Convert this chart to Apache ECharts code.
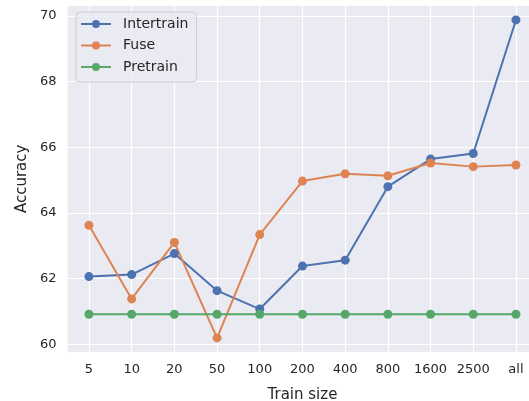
<!DOCTYPE html>
<html>
<head>
<meta charset="utf-8">
<script src="https://cdn.jsdelivr.net/npm/echarts@6/dist/echarts.min.js"></script>
<style>
html,body{margin:0;padding:0;background:#fff;}
#chart{width:529px;height:401px;}
</style>
</head>
<body>
<div id="chart"></div>
<script>
var categories = ['5','10','20','50','100','200','400','800','1600','2500','all'];
var intertrain = [62.06, 62.12, 62.76, 61.63, 61.07, 62.38, 62.56, 64.80, 65.64, 65.81, 69.88];
var fuse = [63.62, 61.38, 63.10, 60.19, 63.34, 64.97, 65.19, 65.13, 65.52, 65.41, 65.46];
var pretrain = [60.91, 60.91, 60.91, 60.91, 60.91, 60.91, 60.91, 60.91, 60.91, 60.91, 60.91];

var chart = echarts.init(document.getElementById('chart'));
var font = 'DejaVu Sans';
function mk(name, data, color) {
  return {
    name: name, type: 'line', data: data,
    symbol: 'circle', symbolSize: 9,
    lineStyle: {width: 2, color: color},
    itemStyle: {color: color},
    emphasis: {disabled: true},
    animation: false
  };
}
chart.setOption({
  animation: false,
  backgroundColor: '#ffffff',
  grid: {
    left: 67.6, right: -8.3, top: 5, bottom: 48.3,
    outerBoundsMode: 'none', containLabel: false,
    show: true, backgroundColor: '#EAEAF2', borderWidth: 0
  },
  legend: {
    orient: 'vertical', left: 76, top: 12,
    backgroundColor: 'rgba(234,234,242,0.8)',
    borderColor: '#cccccc', borderWidth: 1, borderRadius: 4,
    padding: [5, 8, 8, 4],
    itemWidth: 30, itemHeight: 10, itemGap: 7.5,
    textStyle: {fontFamily: font, fontSize: 14, color: '#262626', padding: [0, 0, 0, 7]},
    data: ['Intertrain', 'Fuse', 'Pretrain']
  },
  xAxis: {
    type: 'category', data: categories, boundaryGap: true,
    name: 'Train size', nameLocation: 'middle', nameGap: 35,
    nameTextStyle: {fontFamily: font, fontSize: 15, color: '#262626'},
    axisLine: {show: false}, axisTick: {show: false, alignWithLabel: true},
    axisLabel: {interval: 0, fontFamily: font, fontSize: 13, color: '#262626', margin: 10},
    splitLine: {show: true, interval: 0, alignWithLabel: true, lineStyle: {color: '#ffffff', width: 1.2}}
  },
  yAxis: {
    type: 'value', min: 59.74, max: 70.335, splitNumber: 5,
    name: 'Accuracy', nameLocation: 'middle', nameGap: 38,
    nameTextStyle: {fontFamily: font, fontSize: 15, color: '#262626'},
    axisLine: {show: false}, axisTick: {show: false},
    axisLabel: {fontFamily: font, fontSize: 13, color: '#262626', margin: 11,
      showMinLabel: false, showMaxLabel: false,
      formatter: function (v) { return (Math.abs(v - Math.round(v)) < 1e-6) ? String(Math.round(v)) : ''; }},
    splitLine: {show: true, lineStyle: {color: '#ffffff', width: 1.2}}
  },
  series: [
    mk('Intertrain', intertrain, '#4C72B0'),
    mk('Fuse', fuse, '#DD8452'),
    mk('Pretrain', pretrain, '#55A868')
  ]
});
</script>
</body>
</html>
